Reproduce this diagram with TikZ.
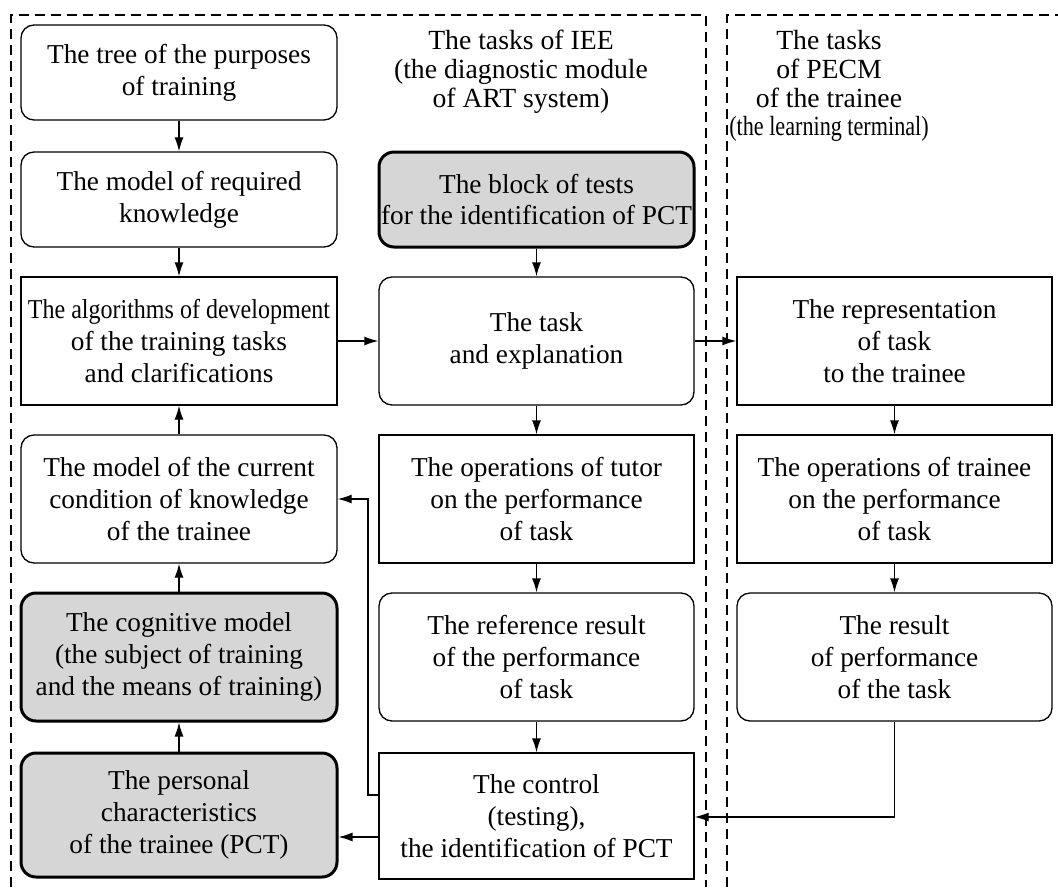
\documentclass[tikz,border=0pt]{standalone}
\usepackage{fontspec}
\setmainfont{Liberation Serif}
\usetikzlibrary{arrows.meta}
\tikzset{
  box/.style={draw, line width=1.3pt, align=center, inner sep=0pt,
    font=\fontsize{27.3}{31.8}\selectfont},
  rbox/.style={box, rounded corners=13pt},
  sbox/.style={box, rounded corners=15pt, line width=3pt, fill=black!16},
  arr/.style={line width=1.3pt, -{Latex[length=14pt,width=9pt]}},
  frame/.style={line width=1.3pt, dash pattern=on 10pt off 6pt},
  ttl/.style={align=center, inner sep=0pt, font=\fontsize{27.7}{28.8}\selectfont},
  colL/.style={minimum width=316pt},
  colM/.style={minimum width=315pt},
}
\begin{document}
\begin{tikzpicture}[x=1pt,y=-1pt]
\useasboundingbox (0,0) rectangle (1058,887);
% dashed frames
\draw[frame] (11,887) -- (11,15) -- (706,15) -- (706,887);
\draw[frame] (727,887) -- (727,15) -- (1058,15);
% titles
\node[ttl] (tIEE) at (521,72) {The tasks of IEE\\(the diagnostic module\\of ART system)};
\node[ttl] (tPECM) at (829,86) {The tasks\\of PECM\\of the trainee\\\scalebox{0.8}[1]{(the learning terminal)}};
% left column
\node[rbox, colL, minimum height=95pt] (tree) at (179,72.5) {The tree of the purposes\\of training};
\node[rbox, colL, minimum height=95pt] (req) at (179,199.5) {The model of required\\knowledge};
\node[box, colL, minimum height=128pt] (alg) at (179,341) {\scalebox{0.88}[1]{The algorithms of development}\\of the training tasks\\and clarifications};
\node[rbox, colL, minimum height=128pt] (cur) at (179,499) {The model of the current\\condition of knowledge\\of the trainee};
\node[sbox, colL, minimum height=128pt] (cog) at (179,657) {The cognitive model\\(the subject of training\\and the means of training)};
\node[sbox, colL, minimum height=124pt] (pct) at (179,815) {The personal\\characteristics\\of the trainee (PCT)};
% middle column
\node[sbox, colM, minimum height=95pt] (blk) at (536.5,199.5) {The block of tests\\for the identification of PCT};
\node[rbox, colM, minimum height=128pt] (task) at (536.5,341) {The task\\and explanation};
\node[box, colM, minimum height=128pt] (tut) at (536.5,499) {The operations of tutor\\on the performance\\of task};
\node[rbox, colM, minimum height=128pt] (ref) at (536.5,657) {The reference result\\of the performance\\of task};
\node[box, colM, minimum height=126pt] (ctrl) at (536.5,816) {The control\\(testing),\\the identification of PCT};
% right column
\node[box, colM, minimum height=128pt] (rep) at (894.5,341) {The representation\\of task\\to the trainee};
\node[box, colM, minimum height=128pt] (top) at (894.5,499) {The operations of trainee\\on the performance\\of task};
\node[rbox, colM, minimum height=128pt] (res) at (894.5,657) {The result\\of performance\\of the task};
% connectors
\draw[arr] (tree) -- (req);
\draw[arr] (req) -- (alg);
\draw[arr] (cur) -- (alg);
\draw[arr] (cog) -- (cur);
\draw[arr] (pct) -- (cog);
\draw[arr] (blk) -- (task);
\draw[arr] (task) -- (tut);
\draw[arr] (tut) -- (ref);
\draw[arr] (ref) -- (ctrl);
\draw[arr] (alg) -- (task);
\draw[arr] (task) -- (rep);
\draw[arr] (rep) -- (top);
\draw[arr] (top) -- (res);
\coordinate (fb) at (368,795);
\draw[arr] (ctrl.west |- fb) -- (fb) -- (fb |- 0,499) -- (cur.east |- 0,499);
\draw[arr] (res.south) -- (res.south |- 0,817) -- (ctrl.east |- 0,817);
\draw[arr] (ctrl.west |- 0,837) -- (pct.east |- 0,837);
\end{tikzpicture}
\end{document}
